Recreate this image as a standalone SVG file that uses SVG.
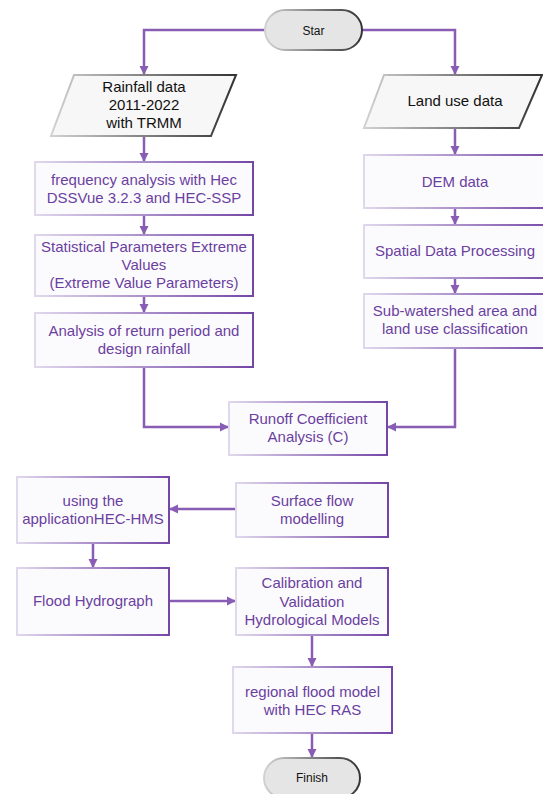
<svg xmlns="http://www.w3.org/2000/svg" width="543" height="794" viewBox="0 0 543 794">
<defs>
<linearGradient id="gBox" x1="0" y1="0" x2="1" y2="0">
<stop offset="0" stop-color="#e0d8ec"/>
<stop offset="1" stop-color="#7446a6"/>
</linearGradient>
<linearGradient id="gGrey" x1="0" y1="0" x2="1" y2="0">
<stop offset="0" stop-color="#d2d2d2"/>
<stop offset="1" stop-color="#333333"/>
</linearGradient>
<marker id="arr" markerUnits="userSpaceOnUse" markerWidth="10" markerHeight="10" refX="9" refY="5" orient="auto">
<path d="M0,0.5 L9,5 L0,9.5 Z" fill="#8a5db5"/>
</marker>
<style>
.box{fill:#fbfbfd;stroke:url(#gBox);stroke-width:2}
.para{fill:#f7f7f7;stroke:url(#gGrey);stroke-width:2}
.pill{fill:#e5e5e5;stroke:url(#gGrey);stroke-width:2}
.t{font-family:"Liberation Sans",Arial,sans-serif;font-size:15px;fill:#6b3fa0;text-anchor:middle}
.tk{font-family:"Liberation Sans",Arial,sans-serif;font-size:15px;fill:#111;text-anchor:middle}
.ts{font-family:"Liberation Sans",Arial,sans-serif;font-size:12px;fill:#111;text-anchor:middle}
.c{fill:none;stroke:#8a5db5;stroke-width:2.5;marker-end:url(#arr)}
</style>
</defs>
<rect width="543" height="794" fill="#ffffff"/>

<g id="connectors">
<path class="c" d="M265,30 H144 V75"/>
<path class="c" d="M362,30 H455 V75"/>
<path class="c" d="M144,136 V162"/>
<path class="c" d="M144,215 V235"/>
<path class="c" d="M144,296 V313"/>
<path class="c" d="M144,367 V427 H229"/>
<path class="c" d="M455,128 V155"/>
<path class="c" d="M455,208 V225"/>
<path class="c" d="M455,278 V294"/>
<path class="c" d="M455,348 V427 H387"/>
<path class="c" d="M236,509 H169"/>
<path class="c" d="M93,543 V568"/>
<path class="c" d="M169,601 H236"/>
<path class="c" d="M312,635 V667"/>
<path class="c" d="M312,733 V758"/>
</g>

<g id="start">
<rect class="pill" x="265" y="10" width="97" height="40" rx="20"/>
<text class="ts" x="313.5" y="34.5">Star</text>
</g>

<g id="rainfall">
<polygon class="para" points="74,75 236,75 211,136 51,136"/>
<text class="tk" x="144" y="92">Rainfall data</text>
<text class="tk" x="144" y="110">2011-2022</text>
<text class="tk" x="144" y="128">with TRMM</text>
</g>

<g id="landuse">
<polygon class="para" points="384,75 542,75 519,128 364,128"/>
<text class="tk" x="455" y="106">Land use data</text>
</g>

<g id="frequency">
<rect class="box" x="35" y="162" width="218" height="53"/>
<text class="t" x="144" y="185">frequency analysis with Hec</text>
<text class="t" x="144" y="203">DSSVue 3.2.3 and HEC-SSP</text>
</g>

<g id="statistical">
<rect class="box" x="35" y="235" width="218" height="61"/>
<text class="t" x="144" y="252">Statistical Parameters Extreme</text>
<text class="t" x="144" y="270">Values</text>
<text class="t" x="144" y="288">(Extreme Value Parameters)</text>
</g>

<g id="returnperiod">
<rect class="box" x="35" y="313" width="218" height="54"/>
<text class="t" x="144" y="336">Analysis of return period and</text>
<text class="t" x="144" y="354">design rainfall</text>
</g>

<g id="dem">
<rect class="box" x="364" y="155" width="192" height="53"/>
<text class="t" x="455" y="187">DEM data</text>
</g>

<g id="spatial">
<rect class="box" x="364" y="225" width="192" height="53"/>
<text class="t" x="455" y="256">Spatial Data Processing</text>
</g>

<g id="subwatershed">
<rect class="box" x="364" y="294" width="192" height="54"/>
<text class="t" x="455" y="316">Sub-watershed area and</text>
<text class="t" x="455" y="334">land use classification</text>
</g>

<g id="runoff">
<rect class="box" x="229" y="402" width="158" height="53"/>
<text class="t" x="308" y="424">Runoff Coefficient</text>
<text class="t" x="308" y="442">Analysis (C)</text>
</g>

<g id="hechms">
<rect class="box" x="17" y="477" width="152" height="66"/>
<text class="t" x="93" y="506">using the</text>
<text class="t" x="93" y="524">applicationHEC-HMS</text>
</g>

<g id="surfaceflow">
<rect class="box" x="236" y="483" width="152" height="54"/>
<text class="t" x="312" y="506">Surface flow</text>
<text class="t" x="312" y="524">modelling</text>
</g>

<g id="hydrograph">
<rect class="box" x="17" y="568" width="152" height="67"/>
<text class="t" x="93" y="606">Flood Hydrograph</text>
</g>

<g id="calibration">
<rect class="box" x="236" y="568" width="152" height="67"/>
<text class="t" x="312" y="588">Calibration and</text>
<text class="t" x="312" y="606.5">Validation</text>
<text class="t" x="312" y="625">Hydrological Models</text>
</g>

<g id="hecras">
<rect class="box" x="233" y="667" width="159" height="66"/>
<text class="t" x="312.5" y="697">regional flood model</text>
<text class="t" x="312.5" y="715">with HEC RAS</text>
</g>

<g id="finish">
<rect class="pill" x="264" y="758" width="96" height="40" rx="20"/>
<text class="ts" x="312" y="782">Finish</text>
</g>
</svg>
